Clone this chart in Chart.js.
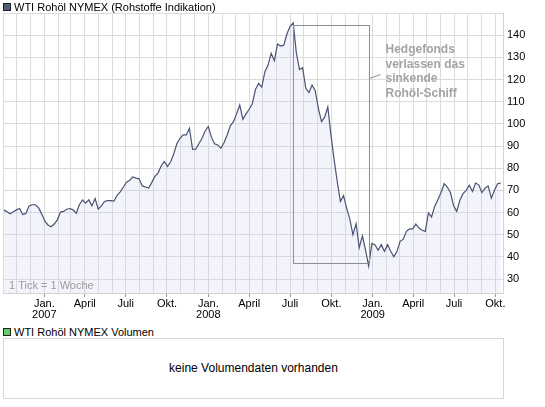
<!DOCTYPE html>
<html lang="de">
<head>
<meta charset="utf-8">
<title>WTI Rohöl NYMEX</title>
<script src="https://cdn.jsdelivr.net/npm/chart.js@4.4.1/dist/chart.umd.min.js"></script>
<style>
    body { margin: 0; background: #fff; font-family: "Liberation Sans", Arial, sans-serif; }
    #seite { position: relative; width: 545px; height: 407px; overflow: hidden; }
    #kurs { position: absolute; left: 0; top: 0; }
    .legende { position: absolute; left: 3px; font-size: 11px; line-height: 11px; color: #000; white-space: nowrap; }
    .kasten { display: inline-block; width: 6px; height: 6px; border: 1px solid #222; margin-right: 3px; }
    #volumen { position: absolute; left: 3px; top: 338px; width: 501px; height: 61px; box-sizing: border-box;
               border: 1px solid #d6d6d6; text-align: center; line-height: 58px; font-size: 12px; color: #000; }
</style>
</head>
<body>
<div id="seite">
    <canvas id="kurs" width="545" height="325"></canvas>
    <div class="legende" style="top:2px"><span class="kasten" style="background:#525c78"></span>WTI Rohöl NYMEX (Rohstoffe Indikation)</div>
    <div class="legende" style="top:327px"><span class="kasten" style="background:#66cc66"></span>WTI Rohöl NYMEX Volumen</div>
    <div id="volumen">keine Volumendaten vorhanden</div>
</div>
<script>
// Wochenschlusskurse in USD (erste Woche: 3.10.2006)
const ersteWoche = Date.UTC(2006, 9, 3);
const achseVon = Date.UTC(2006, 9, 1);
const achseBis = Date.UTC(2009, 9, 18);
const wochenWerte = [
    61.2, 60.4, 59.4, 60.4, 61.2, 61.8, 59.1, 59.6, 63.0, 63.5,
    63.5, 62.2, 59.4, 56.2, 54.4, 53.6, 54.8, 56.7, 60.2, 60.5,
    61.5, 61.8, 61.2, 59.6, 63.5, 65.7, 64.2, 65.7, 63.0, 66.3,
    61.5, 63.0, 65.0, 65.4, 65.4, 65.2, 67.8, 69.3, 71.5, 73.7,
    74.5, 76.0, 75.5, 75.2, 72.0, 71.5, 71.0, 73.5, 76.3, 77.8,
    81.0, 83.0, 80.8, 82.8, 86.4, 91.0, 93.5, 95.0, 95.0, 98.0,
    88.5, 88.6, 91.0, 93.5, 96.8, 98.8, 94.0, 91.0, 90.5, 89.0,
    91.5, 95.0, 99.1, 101.0, 104.5, 108.5, 102.0, 104.5, 106.6, 109.1,
    115.5, 118.3, 116.6, 123.5, 126.5, 131.8, 128.5, 136.0, 135.1, 135.5,
    140.5, 144.0, 145.5, 132.0, 124.5, 125.3, 116.0, 114.1, 117.5, 115.0,
    107.0, 101.0, 103.0, 107.6, 95.0, 84.0, 74.0, 65.0, 67.6, 62.0,
    57.0, 50.0, 55.0, 44.2, 49.5, 43.0, 35.8, 46.0, 45.5, 43.0,
    45.5, 42.5, 45.5, 42.5, 40.0, 42.5, 47.0, 48.0, 51.5, 52.6,
    52.6, 54.8, 53.0, 52.0, 51.5, 59.8, 58.0, 62.8, 65.8, 69.0,
    73.0, 71.5, 69.0, 63.0, 60.5, 65.5, 68.5, 70.0, 72.3, 69.5,
    73.3, 72.5, 69.0, 71.0, 72.0, 66.5, 70.0, 73.0, 73.3
];
const yTicks = [30, 40, 50, 60, 70, 80, 90, 100, 110, 120, 130, 140, 150];
const monatsNamen = ['Jan.', '', '', 'April', '', '', 'Juli', '', '', 'Okt.', '', ''];
const hinweisZeilen = ['Hedgefonds', 'verlassen das', 'sinkende', 'Rohöl-Schiff'];
const tickText = '1 Tick = 1 Woche';

const TAG = 86400000;

// Tage seit Achsenbeginn
function tagVonWoche(i) {
    return (ersteWoche - achseVon) / TAG + 7 * i;
}

const punkte = wochenWerte.map((v, i) => ({ x: tagVonWoche(i), y: v }));

// ein Gitterstrich pro Monatsanfang
const monatsTicks = [];
for (let jahr = 2006; jahr <= 2009; jahr++) {
    for (let monat = 0; monat < 12; monat++) {
        const t = Date.UTC(jahr, monat, 1);
        if (t >= achseVon && t <= achseBis) {
            monatsTicks.push({ wert: (t - achseVon) / TAG, jahr: jahr, monat: monat });
        }
    }
}

function istBeschriftet(m) {
    return m && m.jahr >= 2007 && monatsNamen[m.monat] !== '';
}

// Kasten, Hinweis und Tick-Text
const markierung = {
    id: 'markierung',
    afterDatasetsDraw(chart) {
        const { ctx, chartArea } = chart;
        const x = chart.scales.x, y = chart.scales.y;

        let iMax = 0;
        wochenWerte.forEach((v, i) => { if (v > wochenWerte[iMax]) iMax = i; });
        let iMin = iMax;
        for (let i = iMax; i < wochenWerte.length; i++) {
            if (wochenWerte[i] < wochenWerte[iMin]) iMin = i;
        }

        const x1 = Math.round(x.getPixelForValue(tagVonWoche(iMax))) + 0.5;
        const x2 = Math.round(x.getPixelForValue(tagVonWoche(iMin))) + 0.5;
        const y1 = Math.round(y.getPixelForValue(wochenWerte[iMax])) + 2.5;
        const y2 = Math.round(y.getPixelForValue(wochenWerte[iMin])) - 2.5;

        ctx.save();
        ctx.strokeStyle = '#8e8e8e';
        ctx.lineWidth = 1;
        ctx.strokeRect(x1, y1, x2 - x1, y2 - y1);

        ctx.beginPath();
        ctx.moveTo(x2, y1 + 53);
        ctx.lineTo(x2 + 11, y1 + 49);
        ctx.stroke();

        ctx.fillStyle = '#a4a4a4';
        ctx.font = 'bold 12px "Liberation Sans", Arial, sans-serif';
        ctx.textBaseline = 'middle';
        hinweisZeilen.forEach((zeile, k) => {
            ctx.fillText(zeile, x2 + 16, y1 + 24 + k * 14.7);
        });

        ctx.fillStyle = '#9a9a9a';
        ctx.font = '11px "Liberation Sans", Arial, sans-serif';
        ctx.fillText(tickText, chartArea.left + 6, chartArea.bottom - 7);
        ctx.restore();
    }
};

new Chart(document.getElementById('kurs').getContext('2d'), {
    type: 'line',
    data: {
        datasets: [{
            data: punkte,
            borderColor: '#4a5472',
            borderWidth: 1.2,
            backgroundColor: 'rgba(200, 205, 235, 0.22)',
            fill: 'start',
            pointRadius: 0,
            tension: 0
        }]
    },
    options: {
        responsive: false,
        animation: false,
        layout: { padding: { left: 3, top: 13, right: 0, bottom: 0 } },
        plugins: {
            legend: { display: false },
            tooltip: { enabled: false }
        },
        scales: {
            x: {
                type: 'linear',
                min: 0,
                max: (achseBis - achseVon) / TAG,
                afterBuildTicks: (s) => { s.ticks = monatsTicks.map(m => ({ value: m.wert })); },
                afterFit: (s) => { s.height = 32; },
                grid: {
                    color: '#dcdcdc',
                    tickLength: 4,
                    tickColor: (c) => istBeschriftet(monatsTicks[c.index]) ? '#9a9a9a' : 'rgba(0,0,0,0)'
                },
                border: { color: '#d2d2d2' },
                ticks: {
                    autoSkip: false,
                    maxRotation: 0,
                    padding: 1,
                    color: '#000',
                    font: { family: '"Liberation Sans", Arial, sans-serif', size: 11, lineHeight: 1.0 },
                    callback: function(value, index) {
                        const m = monatsTicks[index];
                        if (!istBeschriftet(m)) return '';
                        if (m.monat === 0) return [monatsNamen[0], String(m.jahr)];
                        return monatsNamen[m.monat];
                    }
                }
            },
            y: {
                position: 'right',
                min: 23.7,
                max: 150,
                afterBuildTicks: (s) => { s.ticks = yTicks.map(v => ({ value: v })); },
                afterFit: (s) => { s.width = 42; },
                grid: { color: '#dcdcdc', drawTicks: false },
                border: { color: '#d2d2d2' },
                ticks: {
                    padding: 4,
                    color: '#000',
                    font: { family: '"Liberation Sans", Arial, sans-serif', size: 11 },
                    callback: (v) => v === 150 ? '' : v
                }
            }
        }
    },
    plugins: [markierung]
});
</script>
</body>
</html>
